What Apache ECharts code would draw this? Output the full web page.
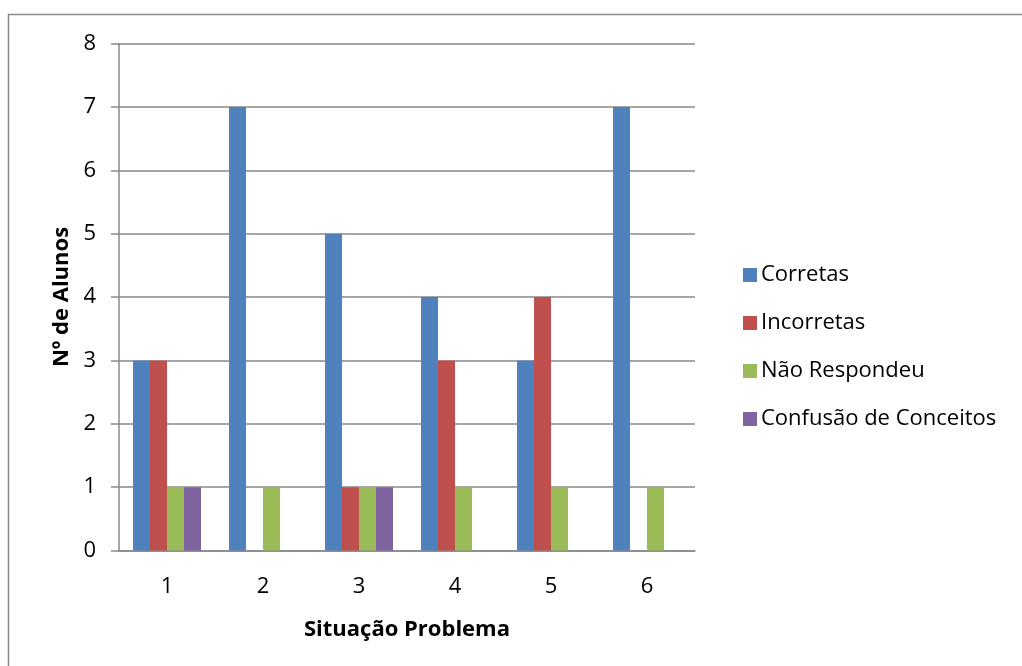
<!DOCTYPE html>
<html>
<head>
<meta charset="utf-8">
<script src="https://cdn.jsdelivr.net/npm/echarts@6/dist/echarts.min.js"></script>
<style>
  html, body { margin: 0; padding: 0; background: #fff; }
  #chart { width: 1022px; height: 666px; }
</style>
</head>
<body>
<div id="chart"></div>
<script>
// Respostas por situação problema
const categories = ['1', '2', '3', '4', '5', '6'];
const corretas = [3, 7, 5, 4, 3, 7];
const incorretas = [3, 0, 1, 3, 4, 0];
const naoRespondeu = [1, 1, 1, 1, 1, 1];
const confusao = [1, 0, 1, 0, 0, 0];
const seriesNames = ['Corretas', 'Incorretas', 'Não Respondeu', 'Confusão de Conceitos'];
const seriesColors = ['#4F81BD', '#C0504D', '#9BBB59', '#8064A2'];

const FONT = '"Open Sans", Lato, sans-serif';
const GRID_COLOR = '#888888';

const chart = echarts.init(document.getElementById('chart'), null, { renderer: 'canvas' });

const makeBar = (name, data, i) => ({
  name: name,
  type: 'bar',
  data: data,
  barWidth: 17,
  barGap: '0%',
  itemStyle: { color: seriesColors[i] },
  emphasis: { disabled: true }
});

chart.setOption({
  animation: false,
  graphic: [{
    type: 'rect',
    shape: { x: 8.5, y: 14.5, width: 1100, height: 700 },
    style: { fill: 'none', stroke: '#8a8a8a', lineWidth: 1.5 },
    silent: true
  }],
  legend: {
    orient: 'vertical',
    left: 738,
    top: 258,
    itemWidth: 14,
    itemHeight: 14,
    itemGap: 24,
    icon: 'rect',
    textStyle: { fontFamily: FONT, fontSize: 22, color: '#000', lineHeight: 24, padding: [0, 0, 0, -1] },
    data: seriesNames
  },
  grid: { left: 119, right: 327, top: 43.5, bottom: 115.5, containLabel: false },
  xAxis: {
    type: 'category',
    data: categories,
    name: 'Situação Problema',
    nameLocation: 'middle',
    nameGap: 68,
    nameTextStyle: { fontFamily: FONT, fontSize: 22, fontWeight: 'bold', color: '#000' },
    axisLine: { show: true, lineStyle: { color: GRID_COLOR, width: 1.5 } },
    axisTick: { show: false },
    axisLabel: { fontFamily: FONT, fontSize: 22, color: '#000', margin: 25 }
  },
  yAxis: {
    type: 'value',
    min: 0,
    max: 8,
    interval: 1,
    name: 'Nº de Alunos',
    nameLocation: 'middle',
    nameGap: 46,
    nameRotate: 90,
    nameTextStyle: { fontFamily: FONT, fontSize: 22, fontWeight: 'bold', color: '#000' },
    axisLine: { show: true, lineStyle: { color: GRID_COLOR, width: 1.5 } },
    axisTick: { show: true, inside: false, length: 8, lineStyle: { color: GRID_COLOR, width: 1.5 } },
    axisLabel: { fontFamily: FONT, fontSize: 22, color: '#000', margin: 23 },
    splitLine: { show: true, lineStyle: { color: GRID_COLOR, width: 1.5 } }
  },
  series: [
    makeBar(seriesNames[0], corretas, 0),
    makeBar(seriesNames[1], incorretas, 1),
    makeBar(seriesNames[2], naoRespondeu, 2),
    makeBar(seriesNames[3], confusao, 3)
  ]
});
</script>
</body>
</html>
